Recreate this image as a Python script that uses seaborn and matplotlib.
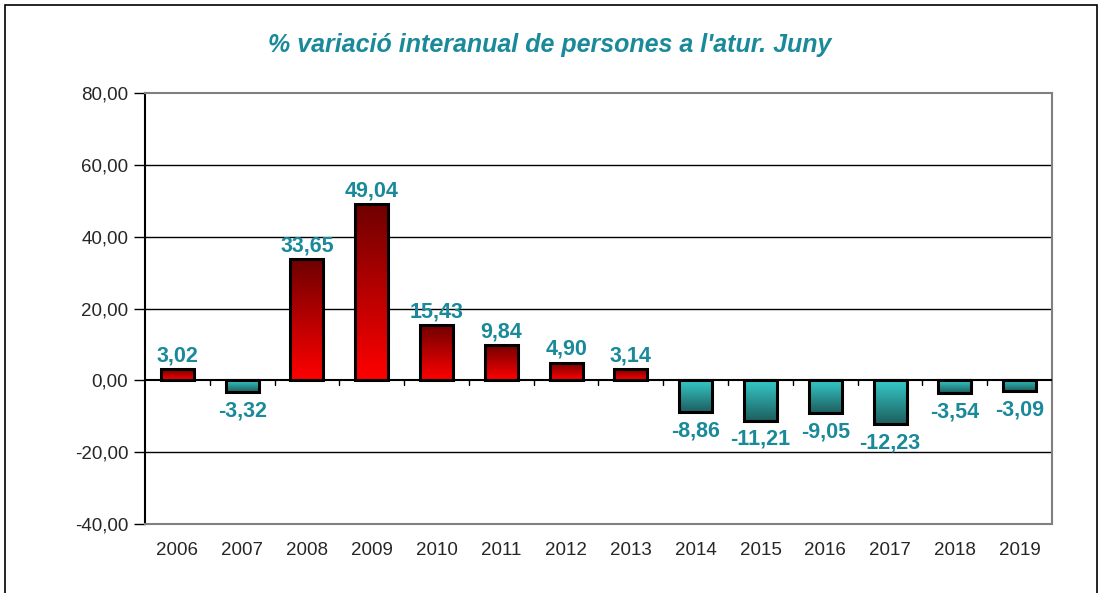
import numpy as np
import pandas as pd
import matplotlib
matplotlib.use('Agg')
import matplotlib.pyplot as plt
import matplotlib.patches as mpatches
from matplotlib.colors import LinearSegmentedColormap
import seaborn as sns

# Data
years = ['2006', '2007', '2008', '2009', '2010', '2011', '2012',
         '2013', '2014', '2015', '2016', '2017', '2018', '2019']
variacio = [3.02, -3.32, 33.65, 49.04, 15.43, 9.84, 4.90,
            3.14, -8.86, -11.21, -9.05, -12.23, -3.54, -3.09]
y_ticks = [-40, -20, 0, 20, 40, 60, 80]

df = pd.DataFrame({'any': years, 'valor': variacio})
df['signe'] = np.where(df['valor'] >= 0, 'pos', 'neg')

sns.set_style('white')
plt.rcParams['font.family'] = ['Liberation Sans', 'DejaVu Sans']

teal = '#1A8A9A'
red_cmap = LinearSegmentedColormap.from_list('vermell', ['#6E0000', '#FF0000'])
teal_cmap = LinearSegmentedColormap.from_list('turquesa', ['#35CACA', '#1E5E5E'])

fig = plt.figure(figsize=(11, 5.93), dpi=100)
ax = fig.add_axes([145 / 1100, 1 - 524 / 593, (1052 - 145) / 1100, (524 - 93) / 593])

sns.barplot(data=df, x='any', y='valor', hue='signe', dodge=False, legend=False,
            palette={'pos': '#FF0000', 'neg': '#35CACA'}, width=0.51,
            edgecolor='black', linewidth=2.2, ax=ax, zorder=3)

# gradient fill inside each bar
grad = np.linspace(0, 1, 256).reshape(-1, 1)
for bar in ax.patches:
    h = bar.get_height()
    if h == 0 or np.isnan(h):
        continue
    x0, w = bar.get_x(), bar.get_width()
    y0 = bar.get_y()
    y1 = y0 + h
    cmap = red_cmap if h > 0 else teal_cmap
    img = ax.imshow(grad, cmap=cmap, aspect='auto', origin='upper',
                    extent=[x0, x0 + w, min(y0, y1), max(y0, y1)], zorder=3)
    img.set_clip_path(bar)
    bar.set_facecolor('none')
    bar.set_zorder(4)

ax.set_xlim(-0.5, len(years) - 0.5)
ax.set_ylim(-40, 80)

# value labels
for i, v in enumerate(variacio):
    txt = f'{v:.2f}'.replace('.', ',')
    if v >= 0:
        ax.annotate(txt, (i, v), xytext=(0, 2), textcoords='offset points',
                    ha='center', va='bottom', color=teal, fontsize=15.5,
                    fontweight='bold', zorder=5)
    else:
        ax.annotate(txt, (i, v), xytext=(0, -6), textcoords='offset points',
                    ha='center', va='top', color=teal, fontsize=15.5,
                    fontweight='bold', zorder=5)

# gridlines and zero line
for t in y_ticks[1:-1]:
    ax.axhline(t, color='black', lw=1.5 if t == 0 else 1, zorder=2 if t else 4.5)
for i in range(len(years) - 1):
    ax.plot([i + 0.5, i + 0.5], [0, -1.3], color='black', lw=1, zorder=4.5)

ax.set_yticks(y_ticks)
ax.set_yticklabels([f'{t:.2f}'.replace('.', ',') for t in y_ticks])
ax.tick_params(axis='y', length=8, width=1, color='black', pad=4,
               labelsize=13.5, left=True)
ax.tick_params(axis='x', length=0, pad=13, labelsize=13.5)
ax.set_xlabel('')
ax.set_ylabel('')

for side in ['top', 'right', 'bottom']:
    ax.spines[side].set_color('#808080')
    ax.spines[side].set_linewidth(1.5)
ax.spines['left'].set_color('black')
ax.spines['left'].set_linewidth(1.5)

fig.text(0.5, 1 - 45 / 593, "% variació interanual de persones a l'atur. Juny",
         ha='center', va='center', color=teal, fontsize=18,
         fontweight='bold', fontstyle='italic')

# outer chart frame
frame = mpatches.Rectangle((5 / 1100, -0.05), 1092 / 1100, 1.05 - 5 / 593,
                           transform=fig.transFigure, fill=False,
                           edgecolor='black', lw=1.2)
fig.patches.append(frame)

fig.savefig('out.png', dpi=100)
